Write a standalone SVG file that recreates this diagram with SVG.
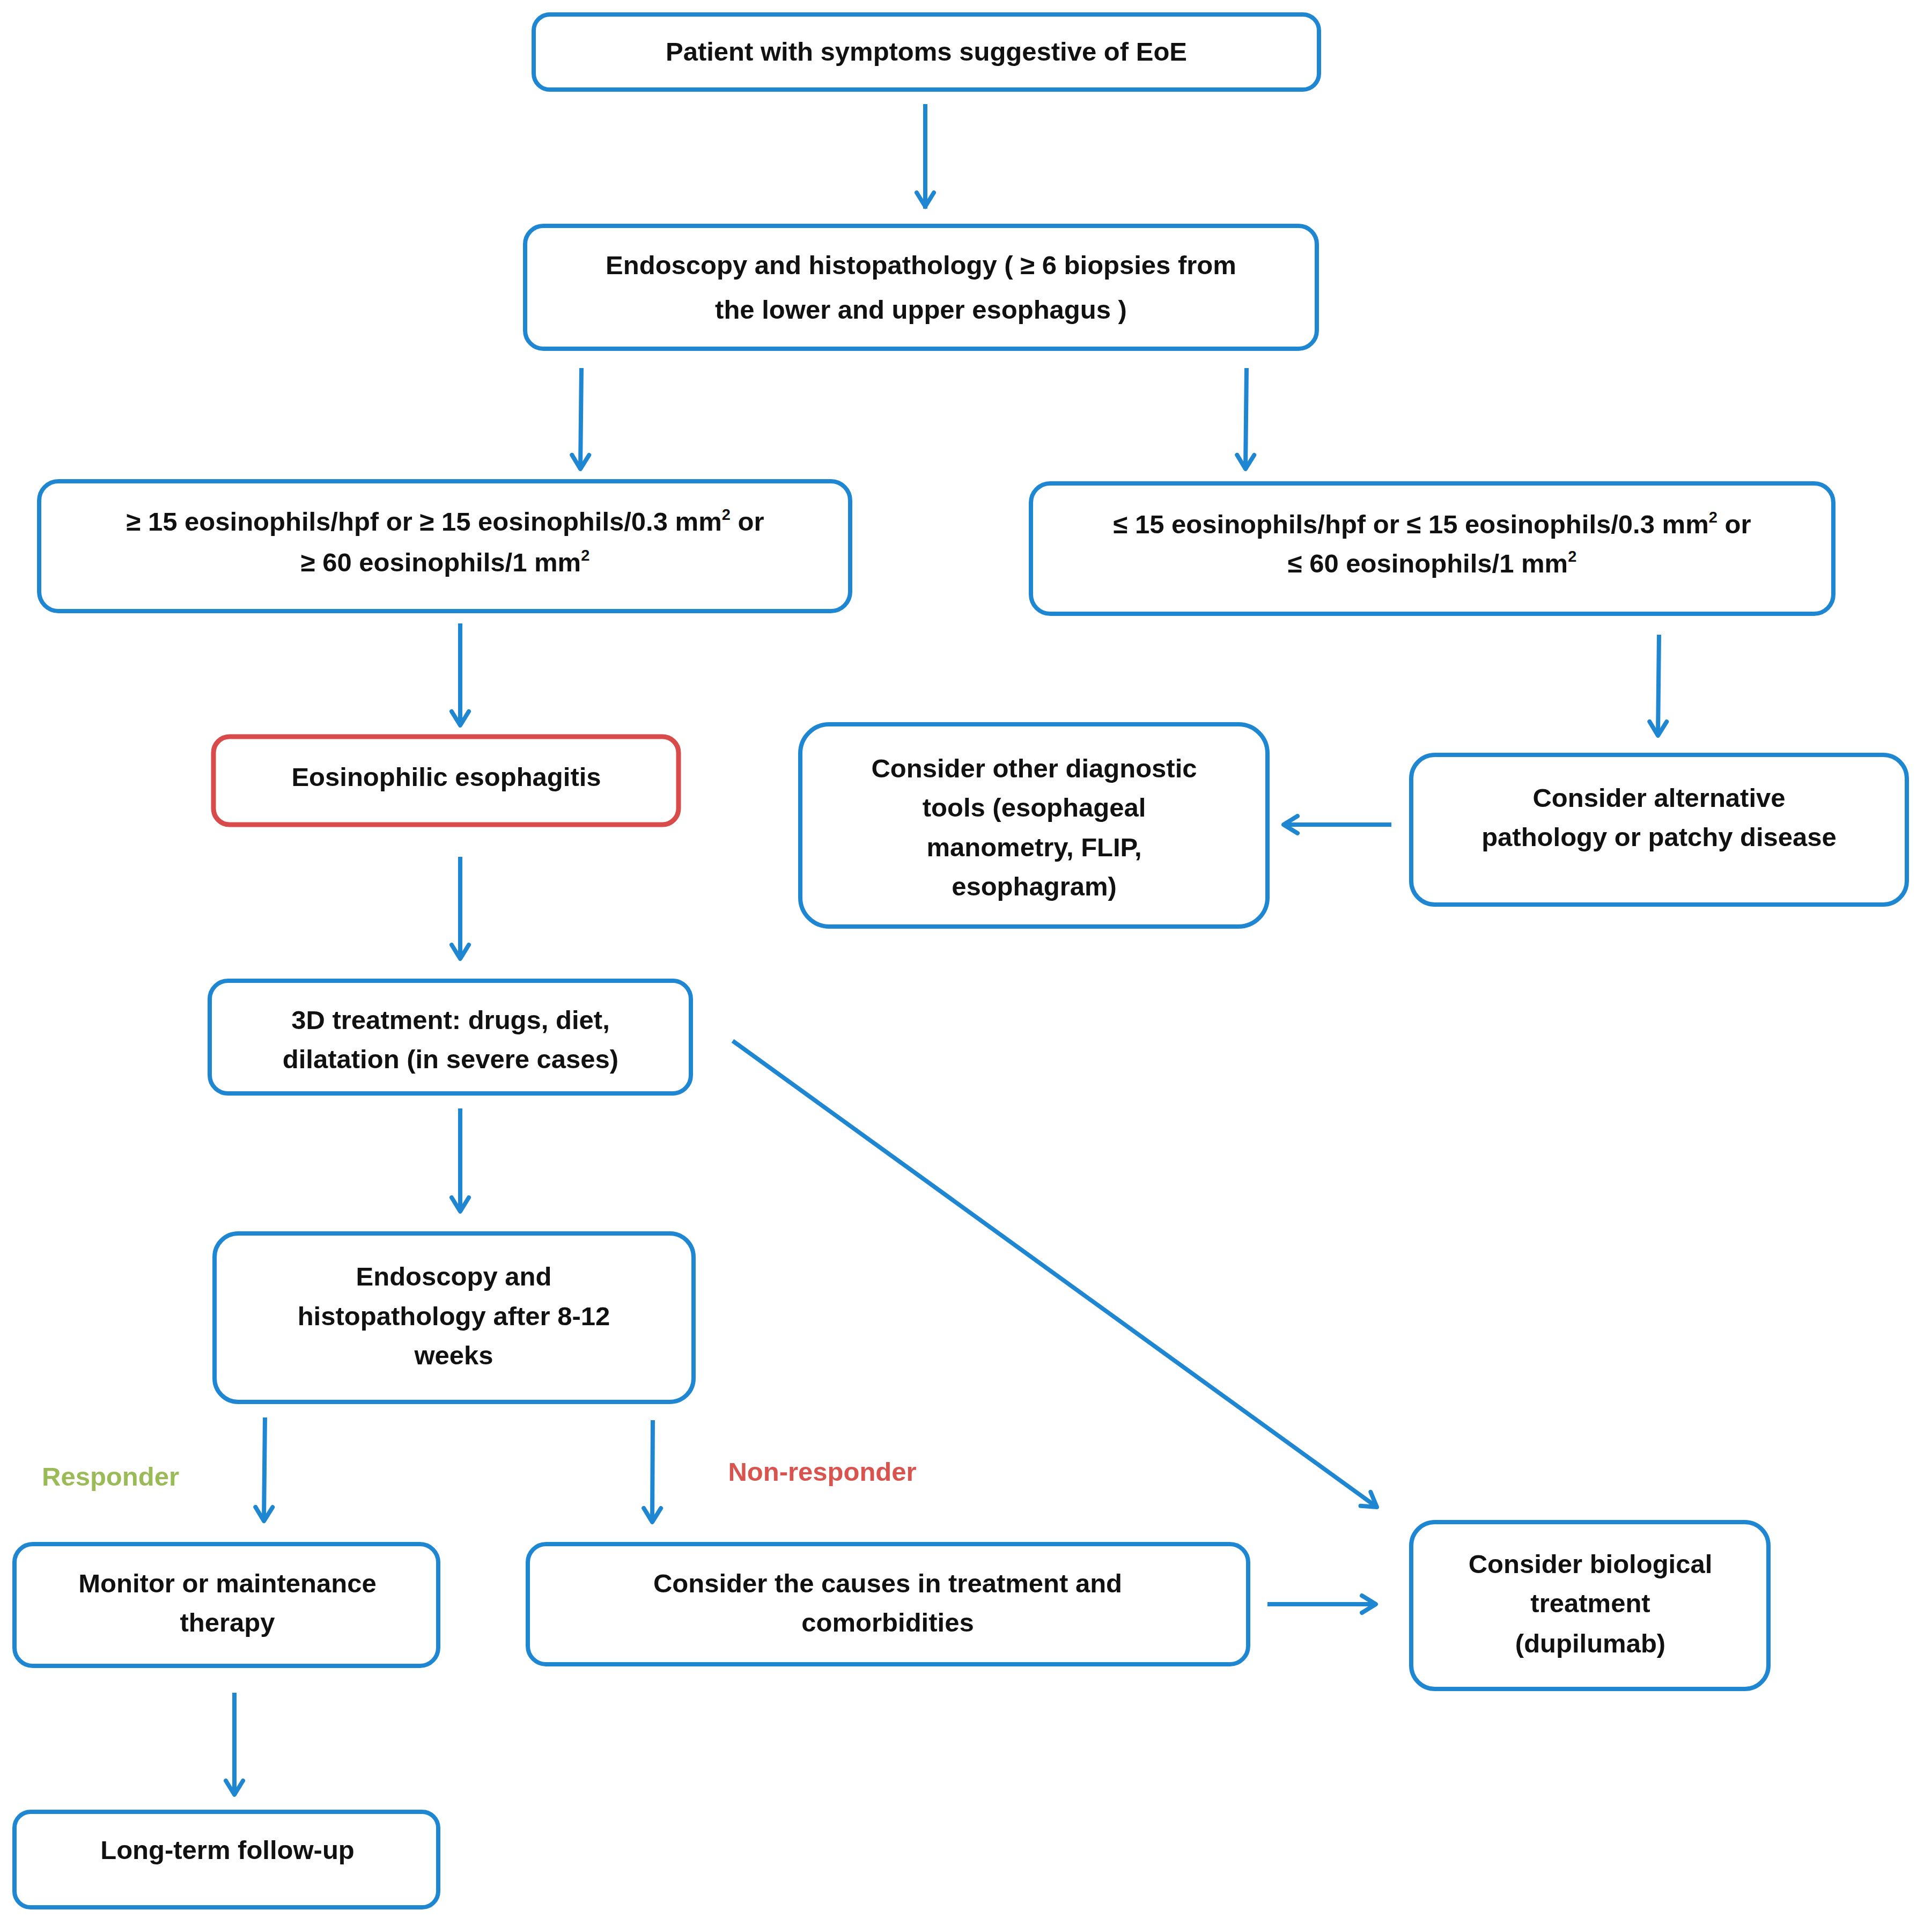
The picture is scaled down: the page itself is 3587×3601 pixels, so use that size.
<svg xmlns="http://www.w3.org/2000/svg" width="3587" height="3601" viewBox="0 0 3587 3601">
<style>
.b{fill:#fff;stroke:#1f87d2;stroke-width:8}
.r{fill:#fff;stroke:#d94b4b;stroke-width:9}
text{font-family:"Liberation Sans",Arial,sans-serif;font-weight:bold;font-size:49px;fill:#111;text-anchor:middle}
.c{stroke:#1f87d2;stroke-width:8;fill:none}
</style>
<defs>
<marker id="a" viewBox="0 0 20 20" refX="18" refY="10" markerWidth="10" markerHeight="10" orient="auto" markerUnits="userSpaceOnUse">
<path d="M2,2 L18,10 L2,18" fill="none" stroke="#1f87d2" stroke-width="3"/>
</marker>
</defs>
<rect width="3587" height="3601" fill="#fff"/>
<g id="connectors" class="c">
<path d="M1725,194 L1725,389" marker-end="url(#a)" markerWidth="40"/>
</g>
<defs>
<marker id="v" viewBox="-30 -30 60 60" refX="0" refY="0" markerWidth="60" markerHeight="60" orient="auto" markerUnits="userSpaceOnUse">
<path d="M-26,-16 L0,0 L-26,16" fill="none" stroke="#1f87d2" stroke-width="8" stroke-linecap="round" stroke-linejoin="round"/>
</marker>
</defs>
<g id="edges" class="c" marker-end="url(#v)">
<path d="M1725,194 L1725,385"/>
<path d="M1084,686 L1082,874"/>
<path d="M2324,686 L2322,874"/>
<path d="M858,1162 L858,1352"/>
<path d="M858,1597 L858,1787"/>
<path d="M858,2066 L858,2258"/>
<path d="M494,2642 L492,2835"/>
<path d="M1217,2647 L1216,2837"/>
<path d="M437,3155 L437,3345"/>
<path d="M2363,2990 L2565,2990"/>
<path d="M1366,1940 L2567,2809"/>
<path d="M3093,1183 L3091,1371"/>
<path d="M2594,1537 L2393,1537"/>
</g>
<g id="n1"><rect class="b" x="995" y="27" width="1464" height="140" rx="30"/><text x="1727" y="113">Patient with symptoms suggestive of EoE</text></g>
<g id="n2"><rect class="b" x="979" y="421" width="1476" height="229" rx="34"/><text x="1717" y="511">Endoscopy and histopathology ( ≥ 6 biopsies from</text><text x="1717" y="594">the lower and upper esophagus )</text></g>
<g id="n3"><rect class="b" x="73" y="897" width="1512" height="242" rx="36"/><text x="830" y="989">≥ 15 eosinophils/hpf or ≥ 15 eosinophils/0.3 mm<tspan font-size="29" dy="-20">2</tspan><tspan dy="20"> or</tspan></text><text x="830" y="1065">≥ 60 eosinophils/1 mm<tspan font-size="29" dy="-20">2</tspan></text></g>
<g id="n4"><rect class="b" x="1922" y="901" width="1496" height="243" rx="36"/><text x="2670" y="994">≤ 15 eosinophils/hpf or ≤ 15 eosinophils/0.3 mm<tspan font-size="29" dy="-20">2</tspan><tspan dy="20">  or</tspan></text><text x="2670" y="1067">≤ 60 eosinophils/1 mm<tspan font-size="29" dy="-20">2</tspan></text></g>
<g id="n5"><rect class="r" x="398" y="1373" width="867" height="164" rx="30"/><text x="832" y="1465">Eosinophilic esophagitis</text></g>
<g id="n6"><rect class="b" x="391" y="1828" width="897" height="210" rx="34"/><text x="840" y="1918">3D treatment: drugs, diet,</text><text x="840" y="1991">dilatation (in severe cases)</text></g>
<g id="n7"><rect class="b" x="400" y="2299" width="893" height="314" rx="44"/><text x="846" y="2396">Endoscopy and</text><text x="846" y="2470">histopathology after 8-12</text><text x="846" y="2543">weeks</text></g>
<text x="206" y="2769" style="fill:#9bbb59">Responder</text>
<text x="1533" y="2760" style="fill:#d9534f">Non-responder</text>
<g id="n8"><rect class="b" x="27" y="2878" width="790" height="227" rx="34"/><text x="424" y="2968">Monitor or maintenance</text><text x="424" y="3041">therapy</text></g>
<g id="n9"><rect class="b" x="27" y="3377" width="790" height="178" rx="30"/><text x="424" y="3465">Long-term follow-up</text></g>
<g id="n10"><rect class="b" x="984" y="2878" width="1343" height="224" rx="34"/><text x="1655" y="2968">Consider the causes in treatment and</text><text x="1655" y="3041">comorbidities</text></g>
<g id="n11"><rect class="b" x="2631" y="2837" width="666" height="311" rx="44"/><text x="2965" y="2932">Consider biological</text><text x="2965" y="3005">treatment</text><text x="2965" y="3080">(dupilumab)</text></g>
<g id="n12"><rect class="b" x="2631" y="1407" width="924" height="279" rx="44"/><text x="3093" y="1504">Consider alternative</text><text x="3093" y="1577">pathology or patchy disease</text></g>
<g id="n13"><rect class="b" x="1492" y="1350" width="871" height="377" rx="54"/><text x="1928" y="1449">Consider other diagnostic</text><text x="1928" y="1522">tools (esophageal</text><text x="1928" y="1596">manometry, FLIP,</text><text x="1928" y="1669">esophagram)</text></g>
</svg>
